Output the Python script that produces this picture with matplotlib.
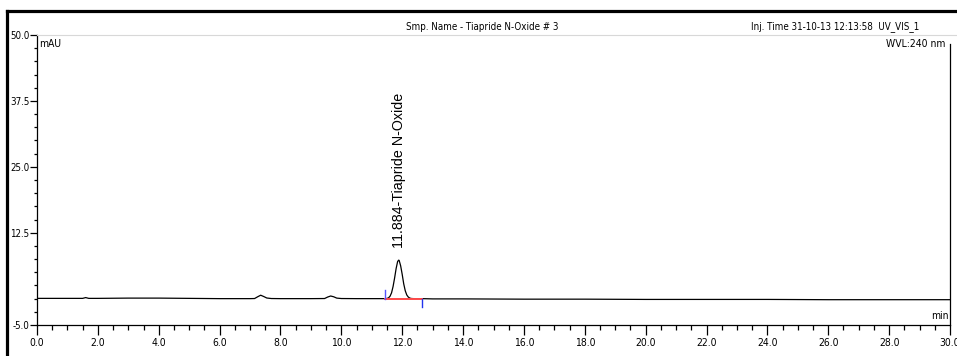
import matplotlib.pyplot as plt
from matplotlib.lines import Line2D
from matplotlib.ticker import MultipleLocator

########## Chromatogram data ##########
time_min = [0.0, 0.5, 1.0, 1.5, 1.6, 1.7, 2.0, 3.0, 4.0, 5.0, 6.0, 7.0,
            7.15, 7.25, 7.35, 7.45, 7.55, 7.7, 8.0, 9.0,
            9.45, 9.55, 9.65, 9.75, 9.85, 10.0, 10.5, 11.0, 11.45,
            11.5, 11.55, 11.6, 11.65, 11.7, 11.75, 11.8, 11.85, 11.884,
            11.9, 11.95, 12.0, 12.05, 12.1, 12.15, 12.2, 12.25, 12.3,
            12.35, 12.4, 12.5, 12.65, 13.0, 14.0, 16.0, 18.0, 20.0,
            22.0, 24.0, 26.0, 28.0, 30.0]
signal_mau = [0.05, 0.05, 0.05, 0.05, 0.2, 0.05, 0.05, 0.1, 0.1, 0.05, 0.0, 0.0,
              0.02, 0.35, 0.65, 0.4, 0.12, 0.02, 0.0, 0.0,
              0.02, 0.3, 0.5, 0.35, 0.1, 0.02, 0.0, 0.0, 0.0,
              0.04, 0.15, 0.45, 1.1, 2.3, 3.9, 5.7, 7.05, 7.3,
              7.25, 6.2, 4.6, 2.8, 1.5, 0.7, 0.3, 0.1, 0.03,
              0.01, 0.0, 0.0, 0.0, -0.05, -0.05, -0.1, -0.1, -0.15,
              -0.15, -0.15, -0.2, -0.2, -0.2]

##### Integrated peak #####
peak_rt = 11.884
peak_name = "Tiapride N-Oxide"
peak_start, peak_end = 11.45, 12.65

##### Axis settings #####
x_range = (0.0, 30.0)
y_range = (-5.0, 50.0)
y_ticks = [-5.0, 12.5, 25.0, 37.5, 50.0]

# condensed face for the axis and header texts
narrow = dict(family='DejaVu Sans', stretch='condensed')
plain = ['Liberation Sans', 'DejaVu Sans']

fig = plt.figure(figsize=(9.57, 3.56), dpi=100)
W, H = 957, 356
ax = fig.add_axes([37/W, 1 - 325/H, (950 - 37)/W, (325 - 35)/H])

ax.plot(time_min, signal_mau, color='black', lw=0.9)

# baseline and delimiters of the integrated peak
ax.plot([peak_start, peak_end], [0, 0], color='#ff4a4a', lw=1.4)
ax.plot([peak_start, peak_start], [0, 1.6], color='#5555ff', lw=1.0)
ax.plot([peak_end, peak_end], [0, -1.6], color='#2233ee', lw=1.0)
ax.text(peak_rt, 9.6, f"{peak_rt:.3f}-{peak_name}", rotation=90,
        ha='center', va='bottom', fontsize=10.3, family=plain)

ax.set_xlim(*x_range)
ax.set_ylim(*y_range)
ax.xaxis.set_major_locator(MultipleLocator(2.0))
ax.xaxis.set_minor_locator(MultipleLocator(0.5))
ax.set_yticks(y_ticks)
ax.yaxis.set_minor_locator(MultipleLocator(2.5))
ax.xaxis.set_major_formatter(plt.FuncFormatter(lambda v, p: f"{v:.1f}"))
ax.yaxis.set_major_formatter(plt.FuncFormatter(lambda v, p: f"{v:.1f}"))

ax.tick_params(axis='x', which='major', length=7, width=0.9, pad=2, labelsize=7.5)
ax.tick_params(axis='x', which='minor', length=3.5, width=0.9)
ax.tick_params(axis='y', which='major', length=5, width=0.9, pad=0.5, labelsize=7)
ax.tick_params(axis='y', which='minor', length=2, width=0.9)
for lbl in ax.get_xticklabels() + ax.get_yticklabels():
    lbl.set_family(narrow['family'])
    lbl.set_stretch(narrow['stretch'])

ax.spines['top'].set_visible(False)
for s in ['left', 'bottom', 'right']:
    ax.spines[s].set_linewidth(0.9)
ax.spines['right'].set_bounds(-5.0, 48.3)

ax.text(0.002, 0.985, "mAU", transform=ax.transAxes, ha='left', va='top',
        fontsize=7.5, **narrow)
ax.text(0.995, 0.985, "WVL:240 nm", transform=ax.transAxes, ha='right', va='top',
        fontsize=7.5, **narrow)
ax.text(0.999, 0.015, "min", transform=ax.transAxes, ha='right', va='bottom',
        fontsize=7.5, **narrow)

# header line and outer frame
fig.add_artist(Line2D([37/W, 1], [1 - 35/H, 1 - 35/H], color='#d8d8d8', lw=0.8))
fig.add_artist(Line2D([7/W, 7/W], [0, 1 - 11/H], color='black', lw=2.3))
fig.add_artist(Line2D([7/W, 1], [1 - 11/H, 1 - 11/H], color='black', lw=2.3))

fig.text(482/W, 1 - 27/H, "Smp. Name - Tiapride N-Oxide # 3", ha='center',
         va='center', fontsize=7, **narrow)
fig.text(919/W, 1 - 27/H, "Inj. Time 31-10-13 12:13:58  UV_VIS_1", ha='right',
         va='center', fontsize=7, **narrow)

fig.savefig("out.png", dpi=100)
